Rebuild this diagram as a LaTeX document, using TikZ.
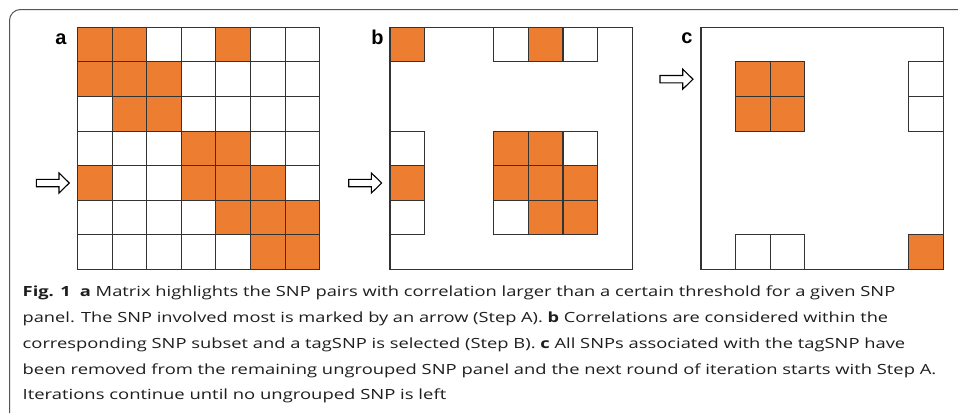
\documentclass[tikz,border=0pt]{standalone}
\usepackage{graphicx}
\usepackage{fontspec}
\setmainfont{Open Sans}
\newfontfamily\labelfont{Liberation Sans}
\definecolor{snporange}{HTML}{ED7D31}
\definecolor{gridcol}{HTML}{333333}
\definecolor{framecol}{HTML}{555555}
\definecolor{textcol}{HTML}{1E1E1E}
\tikzset{
  cellfill/.style={fill=snporange},
  celledge/.style={draw=gridcol, line width=1.1pt},
  boxedge/.style={draw=gridcol, line width=1.1pt},
  panellabel/.style={font=\labelfont\bfseries\fontsize{20}{20}\selectfont, inner sep=0pt, anchor=base},
  captionline/.style={font=\fontsize{14}{14}\selectfont, text=textcol, inner sep=0pt, anchor=base west},
  arrowline/.style={draw=black, line width=1.1pt, fill=white, line join=miter},
  pics/steparrow/.style={code={
    \draw[arrowline] (-33,-3.7) -- (-10.3,-3.7) -- (-10.3,-10) -- (0,0)
      -- (-10.3,10) -- (-10.3,3.7) -- (-33,3.7) -- cycle;}},
}
% one caption line, set to run from x=22.5 to the given right end
\newcommand\capline[4]{%
  \node[captionline] (#1) at (22.5,#2) {\resizebox{\dimexpr #3pt-22.5pt\relax}{\height}{#4}};}
\begin{document}
\begin{tikzpicture}[x=1pt,y=-1pt]
  \def\s{34.6}
  \fill[white] (0,0) rectangle (958,413);
  \useasboundingbox (0,0) rectangle (958,413);

  % outer frame with rounded upper-left corner
  \draw[framecol, line width=1pt, rounded corners=11pt] (958,9.5) -- (9.5,9.5) -- (9.5,413);

  % ---- panel a: full 7x7 correlation matrix
  \begin{scope}[shift={(77.5,27.3)}]
    \foreach \c/\r in {0/0,1/0,4/0,0/1,1/1,2/1,1/2,2/2,3/3,4/3,0/4,3/4,4/4,5/4,4/5,5/5,6/5,5/6,6/6}
      \fill[cellfill] (\c*\s,\r*\s) rectangle ++(\s,\s);
    \foreach \r in {0,...,6}
      \foreach \c in {0,...,6}
        \draw[celledge] (\c*\s,\r*\s) rectangle ++(\s,\s);
  \end{scope}
  \node[panellabel] (la) at (61,44.8) {a};
  \coordinate (ta) at (69.3,183);
  \pic at (ta) {steparrow};

  % ---- panel b: subset of SNPs correlated with the marked one
  \begin{scope}[shift={(390,27.3)}]
    \foreach \c/\r in {0/0,4/0,0/4,3/3,4/3,3/4,4/4,5/4,4/5,5/5}
      \fill[cellfill] (\c*\s,\r*\s) rectangle ++(\s,\s);
    \foreach \c/\r in {0/0,3/0,4/0,5/0,0/3,0/4,0/5,3/3,4/3,5/3,3/4,4/4,5/4,3/5,4/5,5/5}
      \draw[celledge] (\c*\s,\r*\s) rectangle ++(\s,\s);
    \draw[boxedge] (0,0) rectangle (7*\s,7*\s);
  \end{scope}
  \node[panellabel] (lb) at (377.5,44.3) {b};
  \coordinate (tb) at (381.7,183);
  \pic at (tb) {steparrow};

  % ---- panel c: remaining ungrouped SNPs
  \begin{scope}[shift={(701,27.3)}]
    \foreach \c/\r in {1/1,2/1,1/2,2/2,6/6}
      \fill[cellfill] (\c*\s,\r*\s) rectangle ++(\s,\s);
    \foreach \c/\r in {1/1,2/1,1/2,2/2,6/1,6/2,1/6,2/6,6/6}
      \draw[celledge] (\c*\s,\r*\s) rectangle ++(\s,\s);
    \draw[boxedge] (0,0) rectangle (7*\s,7*\s);
  \end{scope}
  \node[panellabel] (lc) at (687,43.5) {c};
  \coordinate (tc) at (693,79.2);
  \pic at (tc) {steparrow};

  % ---- caption
  \capline{cap1}{296.7}{895}{\textbf{Fig. 1}\enspace\textbf{a} Matrix highlights the SNP pairs with correlation larger than a certain threshold for a given SNP}
  \capline{cap2}{322.5}{888}{panel. The SNP involved most is marked by an arrow (Step A). \textbf{b} Correlations are considered within the}
  \capline{cap3}{348.3}{905}{corresponding SNP subset and a tagSNP is selected (Step B). \textbf{c} All SNPs associated with the tagSNP have}
  \capline{cap4}{374.1}{936}{been removed from the remaining ungrouped SNP panel and the next round of iteration starts with Step A.}
  \capline{cap5}{399.9}{446}{Iterations continue until no ungrouped SNP is left}
\end{tikzpicture}
\end{document}
